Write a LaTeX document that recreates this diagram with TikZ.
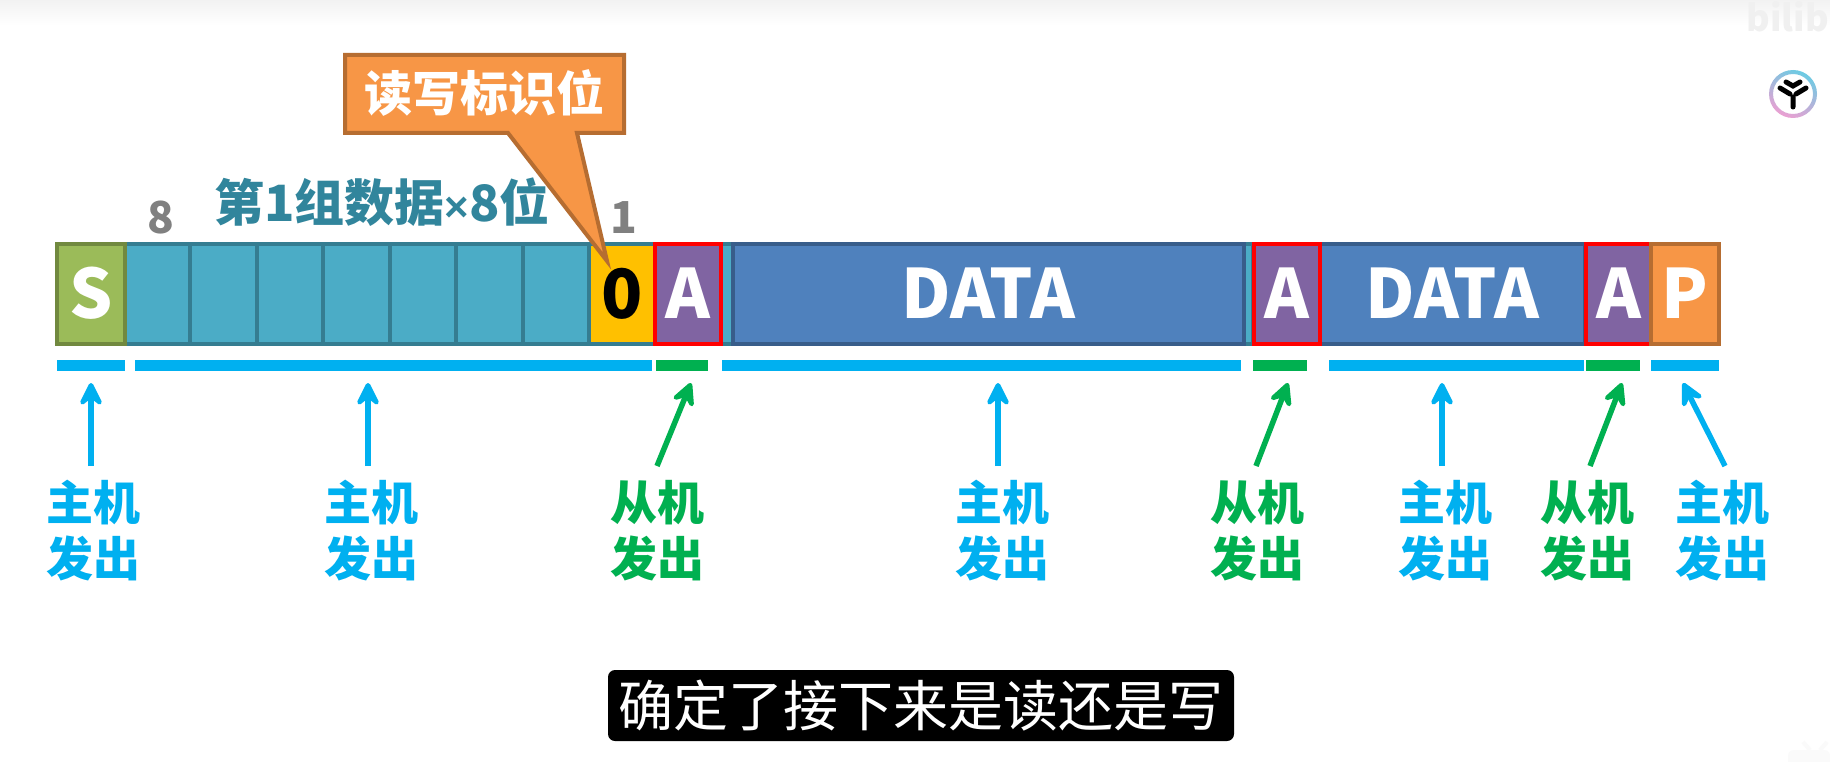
\documentclass[tikz,border=0pt]{standalone}
\usepackage{fontspec}
\setmainfont{Noto Sans CJK SC}[BoldFont={Noto Sans CJK SC Black}]
\newfontfamily\capfont{Noto Sans CJK SC}
\newfontfamily\latinb{Liberation Sans}[Scale=1.0]
\usetikzlibrary{arrows.meta,calc}
\definecolor{mblue}{HTML}{00B0F0}
\definecolor{mgreen}{HTML}{00B050}
\definecolor{tealf}{HTML}{4BACC6}
\definecolor{teald}{HTML}{357D91}
\definecolor{bluef}{HTML}{4F81BD}
\definecolor{blued}{HTML}{385D8A}
\definecolor{grnf}{HTML}{9BBB59}
\definecolor{grnd}{HTML}{71893F}
\definecolor{orgf}{HTML}{F79646}
\definecolor{orgd}{HTML}{B66D31}
\definecolor{purf}{HTML}{8064A2}
\definecolor{yelf}{HTML}{FFC000}
\definecolor{titlec}{HTML}{31859C}
\definecolor{ringa}{HTML}{6CCBE3}
\definecolor{ringb}{HTML}{EBA0D2}
\newcommand{\fsz}[1]{\fontsize{#1}{#1}\selectfont}
\tikzset{
  x=1pt,y=-1pt,
  cell/.style={anchor=north west,inner sep=0pt,outer sep=0pt,line width=4pt,minimum height=100pt,font=\fsz{68}\bfseries,text=white,text height=49pt,text depth=0pt},
  bar/.style={anchor=north west,inner sep=0pt,outer sep=0pt,minimum height=11pt},
  who/.style={inner sep=0pt,align=center,font=\fsz{47}\bfseries,text=#1},
  arr/.style={draw=#1,line width=5.5pt,-{Stealth[length=30pt,width=30pt,inset=12pt,round]}},
}
\begin{document}
\begin{tikzpicture}
\useasboundingbox (0,0) rectangle (1830,762);
\fill[white] (0,0) rectangle (1830,762);
\shade[top color=black!5,bottom color=white] (0,0) rectangle (1830,26);
% watermark
\node[inner sep=0pt,anchor=east,text=black!6] (wm) at (1829,17) {\fsz{36}\bfseries bilib};
% faint corner mark
\fill[black!2,rounded corners=6pt] (1788,750) rectangle (1830,770);
\draw[black!2,line width=4pt] (1803,742) -- (1810,750) (1827,742) -- (1820,750);
% logo
\shade[left color=ringa,right color=ringb,shading angle=-25,even odd rule] (1793,94) circle (24) (1793,94) circle (20);
\node[circle,inner sep=0pt,minimum size=40pt] (logo) at (1793,94) {};
\draw[line width=5pt,black,line cap=round] (1793,97) -- (1793,107) (1780,88) -- (1790,94) (1806,88) -- (1796,94) (1786,82) -- (1793,86) -- (1800,82);
% cells
\node[cell,draw=teald,fill=tealf,minimum width=531pt] (group) at (124,244) {};
\node[cell,draw=grnd,fill=grnf,minimum width=68pt] (s) at (57,244) {S};
\foreach \i/\x in {1/190,2/257,3/323,4/390,5/456,6/523,7/589}{
  \draw[teald,line width=4pt] (\x,244) -- (\x,344);
}
\fill[yelf] (591,246) rectangle (655,342);
\node[inner sep=0pt,font=\fsz{68}\bfseries,text=black,text height=49pt,text depth=0pt] (zero) at (622,294) {0};
\node[cell,draw=teald,fill=tealf,minimum width=532pt] (g2) at (721,244) {};
\node[cell,draw=blued,fill=bluef,minimum width=511pt] (d1) at (733,244) {DATA};
\node[cell,draw=blued,fill=bluef,minimum width=265pt] (d2) at (1320,244) {DATA};
\node[cell,draw=red,fill=purf,minimum width=66pt] (a1) at (655,244) {A};
\node[cell,draw=red,fill=purf,minimum width=66pt] (a2) at (1254,244) {A};
\node[cell,draw=red,fill=purf,minimum width=65pt] (a3) at (1586,244) {A};
\node[cell,draw=orgd,fill=orgf,minimum width=68pt] (p) at (1651,244) {P};
% bars
\node[bar,fill=mblue,minimum width=68pt] (b1) at (57,360) {};
\node[bar,fill=mblue,minimum width=517pt] (b2) at (135,360) {};
\node[bar,fill=mgreen,minimum width=52pt] (b3) at (656,360) {};
\node[bar,fill=mblue,minimum width=519pt] (b4) at (722,360) {};
\node[bar,fill=mgreen,minimum width=54pt] (b5) at (1253,360) {};
\node[bar,fill=mblue,minimum width=255pt] (b6) at (1329,360) {};
\node[bar,fill=mgreen,minimum width=54pt] (b7) at (1586,360) {};
\node[bar,fill=mblue,minimum width=68pt] (b8) at (1651,360) {};
% labels
\node[who=mblue] (l1) at (93,531) {主机\\[9pt]发出};
\node[who=mblue] (l2) at (371,531) {主机\\[9pt]发出};
\node[who=mgreen] (l3) at (657,531) {从机\\[9pt]发出};
\node[who=mblue] (l4) at (1002,531) {主机\\[9pt]发出};
\node[who=mgreen] (l5) at (1257,531) {从机\\[9pt]发出};
\node[who=mblue] (l6) at (1445,531) {主机\\[9pt]发出};
\node[who=mgreen] (l7) at (1587,531) {从机\\[9pt]发出};
\node[who=mblue] (l8) at (1722,531) {主机\\[9pt]发出};
% arrow ends
\coordinate (f1) at (91,466); \coordinate (t1) at (91,383);
\coordinate (f2) at (368,466); \coordinate (t2) at (368,383);
\coordinate (f3) at (657,466); \coordinate (t3) at (691,383);
\coordinate (f4) at (998,466); \coordinate (t4) at (998,383);
\coordinate (f5) at (1256,466); \coordinate (t5) at (1288,383);
\coordinate (f6) at (1442,466); \coordinate (t6) at (1442,383);
\coordinate (f7) at (1590,466); \coordinate (t7) at (1622,383);
\coordinate (f8) at (1725,466); \coordinate (t8) at (1683,383);
\foreach \i/\c in {1/mblue,2/mblue,3/mgreen,4/mblue,5/mgreen,6/mblue,7/mgreen,8/mblue}{
  \draw[arr=\c] (f\i) -- (t\i);
}
% titles
\node[inner sep=0pt,text=titlec,font=\fsz{50}\bfseries] (title) at (382,202) {第1组数据{\latinb\fsz{42}\bfseries ×}8位};
\node[inner sep=0pt,text=black!50,font=\fsz{44}\bfseries] (n8) at (161,218) {8};
\node[inner sep=0pt,text=black!50,font=\fsz{44}\bfseries] (n1) at (624,218) {1};
% callout
\coordinate (tip) at (607,261);
\draw[orgd,fill=orgf,line width=4pt,line join=miter] (345,55) -- (624,55) -- (624,133) -- (577,133) -- (tip) -- (508,133) -- (345,133) -- cycle;
\node[inner sep=0pt,text=white,font=\fsz{48}\bfseries] (call) at (484,93) {读写标识位};
% caption
\node[fill=black,rounded corners=7pt,inner sep=0pt,minimum width=626pt,minimum height=71pt,text=white,font=\capfont\fsz{55}] (cap) at (921,705.5) {确定了接下来是读还是写};
\end{tikzpicture}
\end{document}
